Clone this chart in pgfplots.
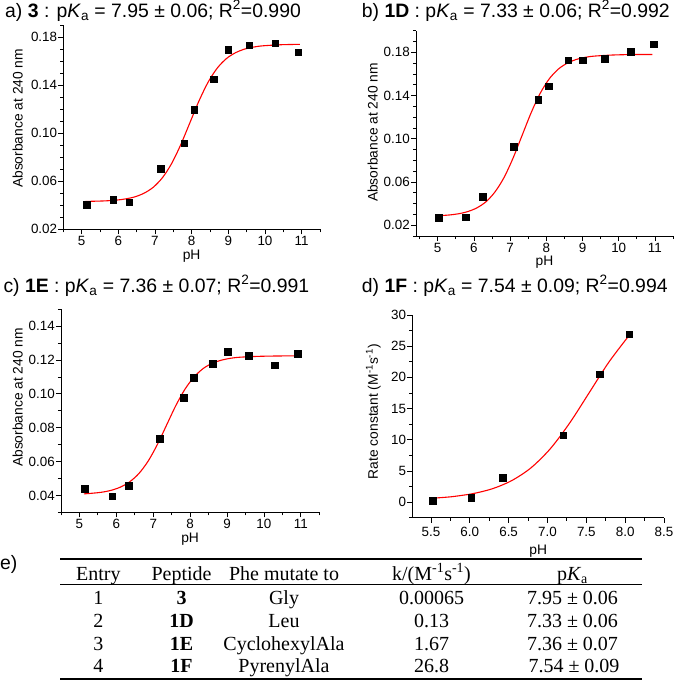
\documentclass[border=0pt]{standalone}
\usepackage{pgfplots}
\pgfplotsset{compat=1.18}
\usepackage{fontspec}
\setmainfont{Liberation Sans}
\newfontfamily\timesfont{Liberation Serif}
\newcommand\lblfont{\fontsize{13.8}{15}\selectfont}
\pgfplotsset{
  panel/.style={
    scale only axis,
    anchor=south west,
    axis lines=left,
    axis line style={-, line width=0.9pt},
    tick align=outside,
    major tick length=5pt,
    minor tick length=3pt,
    every tick/.style={black, line width=0.8pt},
    tick label style={font=\fontsize{13.4}{15}\selectfont},
    /pgf/number format/assume math mode=true,
    clip=false,
    scaled y ticks=false,
    xlabel={pH},
    xticklabel style={anchor=base, inner sep=0pt, yshift=-11.3pt},
    yticklabel style={anchor=east, inner sep=0pt, xshift=-1pt},
  },
  twodec/.style={yticklabel style={/pgf/number format/fixed, /pgf/number format/fixed zerofill, /pgf/number format/precision=2}},
  fitline/.style={red, line width=1.1pt, smooth, no marks},
  pts/.style={only marks, mark=square*, mark size=3.3pt, black, mark options={fill=black}},
}
\begin{document}
\begin{tikzpicture}
\path[use as bounding box] (0pt,0pt) rectangle (675pt,-689pt);
% ---------------- a
\begin{axis}[panel, twodec, at={(63.3pt,-229.3pt)}, width=256.7pt, height=204.3pt,
  xmin=4.5, xmax=11.5, ymin=0.02, ymax=0.19,
  xtick={5,...,11}, minor xtick={4.5,5.5,...,11.5},
  ytick={0.02,0.06,0.10,0.14,0.18}, minor ytick={0.03,0.04,0.05,0.07,0.08,0.09,0.11,0.12,0.13,0.15,0.16,0.17,0.19},
  ylabel={Absorbance at 240 nm},
  ylabel style={font=\lblfont, at={(axis description cs:-0.178,0.543)}, anchor=center},
  xlabel style={font=\lblfont, at={(axis description cs:0.5,0)}, anchor=base, yshift=-30.5pt},
]
\addplot[pts] coordinates {(5.13,0.0403) (5.86,0.0444) (6.30,0.0425) (7.15,0.0703) (7.80,0.0917) (8.07,0.1194) (8.60,0.145) (9.0,0.1694) (9.57,0.1733) (10.28,0.175) (10.91,0.1675)};
\addplot[fitline] coordinates {(5.1,0.0432) (5.6,0.0436) (5.95,0.0443) (6.2,0.0453) (6.45,0.0470) (6.7,0.0500) (6.95,0.0549) (7.2,0.0628) (7.45,0.0745) (7.7,0.0902) (7.95,0.1085) (8.2,0.1268) (8.45,0.1425) (8.7,0.1542) (8.95,0.1621) (9.2,0.1670) (9.45,0.1700) (9.7,0.1717) (9.95,0.1727) (10.45,0.1736) (10.95,0.1739)};
\end{axis}
% ---------------- b
\begin{axis}[panel, twodec, at={(416pt,-236pt)}, width=257pt, height=205.3pt,
  xmin=4.4, xmax=11.5, ymin=0.01, ymax=0.20,
  xtick={5,...,11}, minor xtick={4.5,5.5,...,11.5},
  ytick={0.02,0.06,0.10,0.14,0.18}, minor ytick={0.01,0.03,0.04,0.05,0.07,0.08,0.09,0.11,0.12,0.13,0.15,0.16,0.17,0.19,0.20},
  ylabel={Absorbance at 240 nm},
  ylabel style={font=\lblfont, at={(axis description cs:-0.169,0.504)}, anchor=center},
  xlabel style={font=\lblfont, at={(axis description cs:0.5,0)}, anchor=base, yshift=-29pt},
]
\addplot[pts] coordinates {(5.03,0.0268) (5.78,0.0275) (6.25,0.0461) (7.10,0.0927) (7.78,0.136) (8.07,0.1486) (8.60,0.1728) (9.0,0.1728) (9.61,0.174) (10.33,0.1806) (10.96,0.1874)};
\addplot[fitline] coordinates {(5.05,0.0288) (5.33,0.0295) (5.58,0.0306) (5.83,0.0326) (6.08,0.0360) (6.33,0.0416) (6.58,0.0507) (6.83,0.0640) (7.08,0.0820) (7.33,0.1030) (7.58,0.1240) (7.83,0.1420) (8.08,0.1554) (8.33,0.1644) (8.58,0.1700) (8.83,0.1734) (9.08,0.1754) (9.33,0.1765) (9.83,0.1775) (10.33,0.1779) (10.93,0.1780)};
\end{axis}
% ---------------- c
\begin{axis}[panel, twodec, at={(61pt,-512.3pt)}, width=258.3pt, height=203pt,
  xmin=4.5, xmax=11.5, ymin=0.03, ymax=0.15,
  xtick={5,...,11}, minor xtick={4.5,5.5,...,11.5},
  ytick={0.04,0.06,0.08,0.10,0.12,0.14}, minor ytick={0.03,0.05,0.07,0.09,0.11,0.13,0.15},
  ylabel={Absorbance at 240 nm},
  ylabel style={font=\lblfont, at={(axis description cs:-0.168,0.566)}, anchor=center},
  xlabel style={font=\lblfont, at={(axis description cs:0.5,0)}, anchor=base, yshift=-29.7pt},
]
\addplot[pts] coordinates {(5.15,0.0439) (5.89,0.0396) (6.33,0.0457) (7.18,0.0735) (7.83,0.0978) (8.09,0.1094) (8.61,0.1180) (9.01,0.1249) (9.58,0.1227) (10.29,0.1169) (10.91,0.1239)};
\addplot[fitline] coordinates {(5.12,0.0409) (5.36,0.0413) (5.61,0.0419) (5.86,0.0430) (6.11,0.0449) (6.36,0.0480) (6.61,0.0529) (6.86,0.0602) (7.11,0.0700) (7.36,0.0815) (7.61,0.0930) (7.86,0.1028) (8.11,0.1101) (8.36,0.1151) (8.61,0.1182) (8.86,0.1200) (9.11,0.1211) (9.36,0.1217) (9.86,0.1222) (10.36,0.1224) (10.93,0.1225)};
\end{axis}
% ---------------- d
\begin{axis}[panel, at={(412.3pt,-517.7pt)}, width=251.7pt, height=202.7pt,
  xmin=5.26, xmax=8.5, ymin=-2.5, ymax=30,
  xtick={5.5,6.0,6.5,7.0,7.5,8.0,8.5}, minor xtick={5.75,6.25,6.75,7.25,7.75,8.25},
  ytick={0,5,...,30}, minor ytick={-2.5,2.5,7.5,12.5,17.5,22.5,27.5},
  xticklabel style={/pgf/number format/fixed, /pgf/number format/fixed zerofill, /pgf/number format/precision=1, yshift=-2.5pt},
  ylabel={Rate constant (M\textsuperscript{-1}s\textsuperscript{-1})},
  ylabel style={font=\lblfont, at={(axis description cs:-0.155,0.523)}, anchor=center},
  xlabel style={font=\lblfont, at={(axis description cs:0.5,0)}, anchor=base, yshift=-36.3pt},
]
\addplot[pts] coordinates {(5.52,0.2) (6.02,0.75) (6.42,3.87) (7.20,10.7) (7.67,20.5) (8.05,26.9)};
\addplot[fitline] coordinates {(5.5,0.61) (5.65,0.74) (5.79,0.90) (6.04,1.36) (6.29,2.14) (6.54,3.45) (6.79,5.52) (7.04,8.61) (7.29,12.76) (7.54,17.6) (7.79,22.44) (8.06,26.87)};
\end{axis}
% ---------------- titles
\begin{scope}[every node/.style={anchor=base west, inner sep=0pt, font=\fontsize{19.4}{22}\selectfont}]
\node at (5pt,-17.5pt) {a) \textbf{3} : p\textit{K}\textsubscript{a} = 7.95 ± 0.06; R\textsuperscript{2}=0.990};
\node at (361.7pt,-17.5pt) {b) \textbf{1D} : p\textit{K}\textsubscript{a} = 7.33 ± 0.06; R\textsuperscript{2}=0.992};
\node at (3.3pt,-292pt) {c) \textbf{1E} : p\textit{K}\textsubscript{a} = 7.36 ± 0.07; R\textsuperscript{2}=0.991};
\node at (361.7pt,-292pt) {d) \textbf{1F} : p\textit{K}\textsubscript{a} = 7.54 ± 0.09; R\textsuperscript{2}=0.994};
\node at (0pt,-569pt) {e)};
\end{scope}
% ---------------- table e
\draw[line width=1.4pt] (60pt,-559pt) -- (642pt,-559pt);
\draw[line width=0.9pt] (60pt,-584pt) -- (642pt,-584pt);
\draw[line width=1.4pt] (60pt,-679pt) -- (642pt,-679pt);
\begin{scope}[every node/.style={anchor=base, inner sep=0pt, font=\timesfont\fontsize{20}{22}\selectfont}]
\node at (98.3pt,-580pt) {Entry};
\node at (181.5pt,-580pt) {Peptide};
\node at (284pt,-580pt) {Phe mutate to};
\node at (431.5pt,-580pt) {k/(M\textsuperscript{-1}s\textsuperscript{-1})};
\node at (572.5pt,-580pt) {p\textit{K}\textsubscript{a}};
\node at (98.3pt,-604pt) {1};
\node at (181.5pt,-604pt) {\textbf{3}};
\node at (284pt,-604pt) {Gly};
\node at (431.5pt,-604pt) {0.00065};
\node at (572.5pt,-604pt) {7.95 ± 0.06};
\node at (98.3pt,-627pt) {2};
\node at (181.5pt,-627pt) {\textbf{1D}};
\node at (284pt,-627pt) {Leu};
\node at (431.5pt,-627pt) {0.13};
\node at (572.5pt,-627pt) {7.33 ± 0.06};
\node at (98.3pt,-650pt) {3};
\node at (181.5pt,-650pt) {\textbf{1E}};
\node at (284pt,-650pt) {CyclohexylAla};
\node at (431.5pt,-650pt) {1.67};
\node at (572.5pt,-650pt) {7.36 ± 0.07};
\node at (98.3pt,-672pt) {4};
\node at (181.5pt,-672pt) {\textbf{1F}};
\node at (284pt,-672pt) {PyrenylAla};
\node at (431.5pt,-672pt) {26.8};
\node at (574pt,-672pt) {7.54 ± 0.09};
\end{scope}
\end{tikzpicture}
\end{document}
